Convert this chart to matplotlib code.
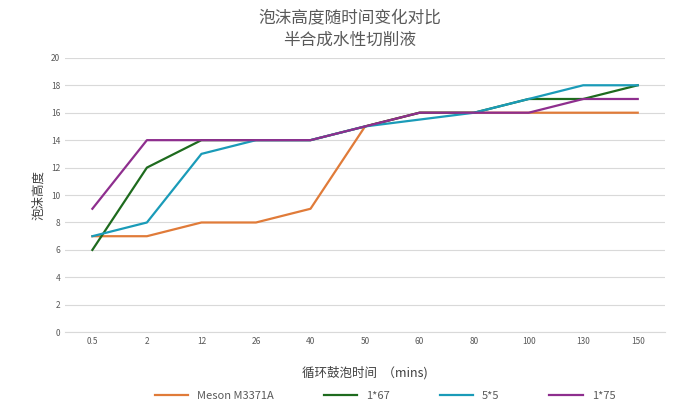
import matplotlib
matplotlib.use("Agg")
import matplotlib.pyplot as plt

plt.rcParams['font.family'] = ['Noto Sans CJK SC', 'DejaVu Sans']

categories = ["0.5", "2", "12", "26", "40", "50", "60", "80", "100", "130", "150"]
meson = [7, 7, 8, 8, 9, 15, 16, 16, 16, 16, 16]
s167 = [6, 12, 14, 14, 14, 15, 16, 16, 17, 17, 18]
s55 = [7, 8, 13, 14, 14, 15, 15.5, 16, 17, 18, 18]
s175 = [9, 14, 14, 14, 14, 15, 16, 16, 16, 17, 17]
names = ["Meson M3371A", "1*67", "5*5", "1*75"]
colors = ["#E07B39", "#1E6B1E", "#1A9BB8", "#8E2E8E"]

fig = plt.figure(figsize=(7, 4.19), dpi=100)
ax = fig.add_axes([0.093, 0.207, 0.857, 0.655])
x = range(len(categories))
for vals, n, c in zip([meson, s167, s55, s175], names, colors):
    ax.plot(x, vals, color=c, lw=1.6, label=n)
ax.set_xlim(-0.5, len(categories) - 0.5)
ax.set_ylim(0, 20)
ax.set_yticks(range(0, 21, 2))
ax.set_xticks(list(x))
ax.set_xticklabels(categories)
ax.tick_params(labelsize=6, colors="#595959", length=0)
ax.grid(axis='y', color="#D9D9D9", lw=0.8)
ax.set_axisbelow(True)
for s in ["top", "right", "left"]:
    ax.spines[s].set_visible(False)
ax.spines["bottom"].set_color("#D9D9D9")
ax.set_ylabel("泡沫高度", fontsize=9, color="#404040")
ax.set_xlabel("循环鼓泡时间  （mins)", fontsize=9, color="#404040", labelpad=14)
fig.suptitle("泡沫高度随时间变化对比\n半合成水性切削液", fontsize=12, color="#595959", y=0.975, linespacing=1.3)
fig.legend(loc="lower center", ncol=4, frameon=False, fontsize=8, bbox_to_anchor=(0.55, 0.02),
           handlelength=3, columnspacing=4.5, labelcolor="#595959")
fig.savefig("out.png")
